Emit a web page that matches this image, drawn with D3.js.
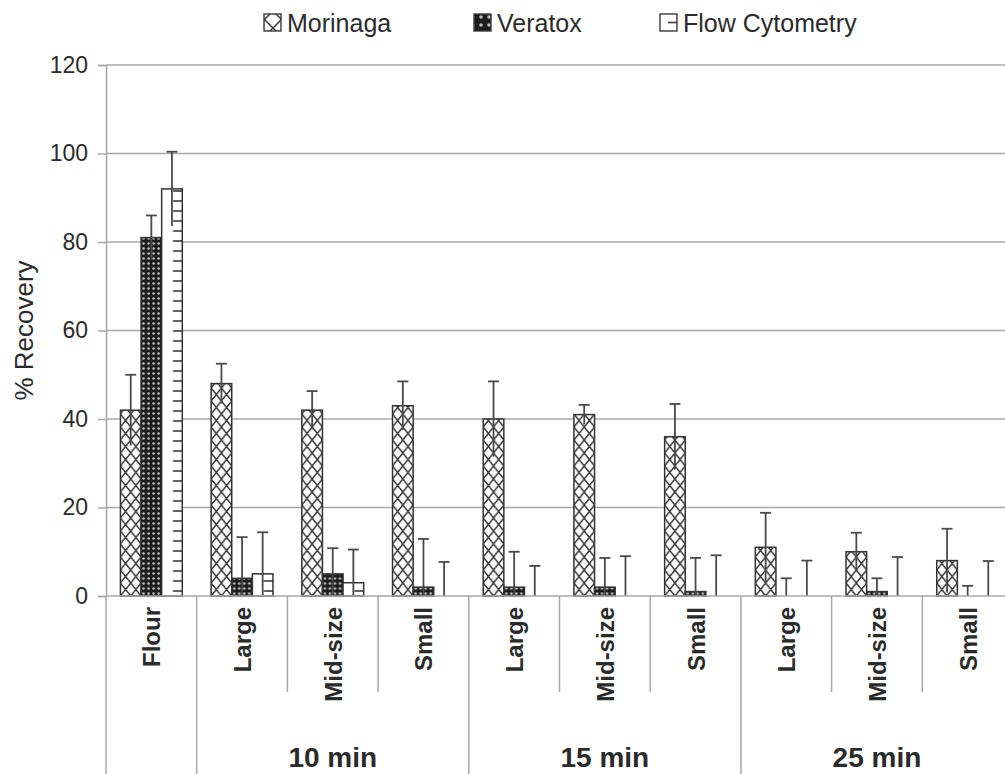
<!DOCTYPE html>
<html>
<head>
<meta charset="utf-8">
<script src="https://cdn.jsdelivr.net/npm/d3@7"></script>
<style>
  body { margin: 0; background: #fff; }
  text { font-family: "Liberation Sans", Arial, sans-serif; fill: #2b2b2b; }
</style>
</head>
<body>
<svg id="svg"></svg>
<script>
// Data
const categories = ["Flour", "Large", "Mid-size", "Small", "Large", "Mid-size", "Small", "Large", "Mid-size", "Small"];
const timeLabels = ["10 min", "15 min", "25 min"];
const timeSpans = [[1, 3], [4, 6], [7, 9]];
const seriesNames = ["Morinaga", "Veratox", "Flow Cytometry"];
const morinaga = [42, 48, 42, 43, 40, 41, 36, 11, 10, 8];
const morinagaErr = [8, 4.5, 4.3, 5.5, 8.5, 2.2, 7.4, 7.8, 4.3, 7.2];
const veratox = [81, 4, 5, 2, 2, 2, 1, 0, 1, 0];
const veratoxErr = [5, 9.3, 5.8, 10.9, 8, 6.6, 7.6, 4, 3, 2.3];
const flow = [92, 5, 3, 0, 0, 0, 0, 0, 0, 0];
const flowErr = [8.4, 9.4, 7.5, 7.7, 6.8, 9, 9.2, 8, 8.8, 7.9];
const yTicks = [0, 20, 40, 60, 80, 100, 120];

const width = 1005, height = 774;
const svg = d3.select("#svg").attr("width", width).attr("height", height);
const defs = svg.append("defs");

const x0 = 106, x1 = 1013, yBottom = 596, yTop = 65;

const x = d3.scaleBand().domain(d3.range(categories.length)).range([x0, x1]);
const xs = d3.scaleBand().domain(seriesNames).range([0, x.bandwidth()]).paddingOuter(0.7);
const y = d3.scaleLinear().domain([0, 120]).range([yBottom, yTop]);

const values = [morinaga, veratox, flow];
const errors = [morinagaErr, veratoxErr, flowErr];

// grid lines
svg.append("g")
    .selectAll("line")
    .data(yTicks.slice(1))
    .enter()
    .append("line")
    .attr("x1", x0).attr("x2", width)
    .attr("y1", d => y(d)).attr("y2", d => y(d))
    .attr("stroke", "#a8a8a8").attr("stroke-width", 1.5);

// y axis
const yAxis = svg.append("g")
    .attr("transform", "translate(" + x0 + ",0)")
    .call(d3.axisLeft(y).tickValues(yTicks).tickSize(8).tickPadding(10));
yAxis.select(".domain").attr("stroke", "#a8a8a8").attr("stroke-width", 1.5);
yAxis.selectAll(".tick line").attr("stroke", "#a8a8a8").attr("stroke-width", 1.5);
yAxis.selectAll(".tick text").attr("font-size", 23).style("fill", "#2b2b2b")
    .attr("font-family", "Liberation Sans, Arial, sans-serif");

svg.append("text")
    .attr("transform", "translate(33," + y(60) + ") rotate(-90)")
    .attr("text-anchor", "middle")
    .attr("font-size", 26)
    .text("% Recovery");

// patterns, one per bar so the tiles line up with each bar
function crossPattern(id, px, py, w, h) {
    const p = defs.append("pattern").attr("id", id)
        .attr("patternUnits", "userSpaceOnUse")
        .attr("x", px).attr("y", py).attr("width", w).attr("height", h);
    p.append("rect").attr("width", w).attr("height", h).attr("fill", "#fff");
    p.append("path").attr("d", "M0,0L" + w + "," + h + "M" + w + ",0L0," + h)
        .attr("stroke", "#3a3a3a").attr("stroke-width", 1.5);
}
function dotPattern(id, px) {
    const p = defs.append("pattern").attr("id", id)
        .attr("patternUnits", "userSpaceOnUse")
        .attr("x", px).attr("y", yBottom).attr("width", 5).attr("height", 5);
    p.append("rect").attr("width", 5).attr("height", 5).attr("fill", "#1c1c1c");
    p.append("circle").attr("cx", 2.5).attr("cy", 2.5).attr("r", 1.25).attr("fill", "#c4c4c4");
}
function tickPattern(id, px, w, h) {
    const p = defs.append("pattern").attr("id", id)
        .attr("patternUnits", "userSpaceOnUse")
        .attr("x", px).attr("y", yBottom).attr("width", w).attr("height", h);
    p.append("rect").attr("width", w).attr("height", h).attr("fill", "#fff");
    p.append("line").attr("x1", w * 0.55).attr("x2", w).attr("y1", h / 2).attr("y2", h / 2)
        .attr("stroke", "#3a3a3a").attr("stroke-width", 1.6);
}

const bw = xs.bandwidth();
const bars = [];
categories.forEach((c, i) => {
    seriesNames.forEach((s, k) => {
        const bx = x(i) + xs(s);
        const id = "p" + k + "_" + i;
        if (k === 0) crossPattern(id, bx, yBottom, bw / 2, 13);
        else if (k === 1) dotPattern(id, bx);
        else tickPattern(id, bx, bw, 10);
        bars.push({ i: i, k: k, x: bx, v: values[k][i], e: errors[k][i], id: id });
    });
});

// bars
svg.append("g")
    .selectAll("rect")
    .data(bars.filter(d => d.v > 0))
    .enter()
    .append("rect")
    .attr("x", d => d.x)
    .attr("y", d => y(d.v))
    .attr("width", bw)
    .attr("height", d => y(0) - y(d.v))
    .attr("fill", d => "url(#" + d.id + ")")
    .attr("stroke", "#333")
    .attr("stroke-width", 1.5);

// error bars
const eb = svg.append("g").selectAll("g").data(bars).enter().append("g");
eb.append("line")
    .attr("x1", d => d.x + bw / 2).attr("x2", d => d.x + bw / 2)
    .attr("y1", d => y(Math.max(0, d.v - d.e))).attr("y2", d => y(d.v + d.e))
    .attr("stroke", "#4a4a4a").attr("stroke-width", 1.8);
eb.append("line")
    .attr("x1", d => d.x + bw / 2 - 5.5).attr("x2", d => d.x + bw / 2 + 5.5)
    .attr("y1", d => y(d.v + d.e)).attr("y2", d => y(d.v + d.e))
    .attr("stroke", "#4a4a4a").attr("stroke-width", 1.8);

// x axis line and separators
svg.append("line")
    .attr("x1", x0).attr("x2", width).attr("y1", yBottom).attr("y2", yBottom)
    .attr("stroke", "#a8a8a8").attr("stroke-width", 1.5);
const longSeps = [0, 1, 4, 7];
svg.append("g")
    .selectAll("line")
    .data(d3.range(categories.length))
    .enter()
    .append("line")
    .attr("x1", i => x(i)).attr("x2", i => x(i))
    .attr("y1", yBottom)
    .attr("y2", i => longSeps.includes(i) ? height : 692)
    .attr("stroke", "#a8a8a8").attr("stroke-width", 1.5);

// category labels
svg.append("g")
    .selectAll("text")
    .data(categories)
    .enter()
    .append("text")
    .attr("transform", (d, i) => "translate(" + (x(i) + x.bandwidth() / 2 + 9) + ",607) rotate(-90)")
    .attr("text-anchor", "end")
    .attr("font-size", 24)
    .attr("font-weight", "bold")
    .text(d => d);

// time labels
svg.append("g")
    .selectAll("text")
    .data(timeLabels)
    .enter()
    .append("text")
    .attr("x", (d, j) => (x(timeSpans[j][0]) + x(timeSpans[j][1]) + x.bandwidth()) / 2)
    .attr("y", 767)
    .attr("text-anchor", "middle")
    .attr("font-size", 28)
    .attr("font-weight", "bold")
    .text(d => d);

// legend
const legendX = [264, 474, 660];
const lg = svg.append("g").selectAll("g").data(seriesNames).enter().append("g")
    .attr("transform", (d, k) => "translate(" + legendX[k] + ",14)");
crossPattern("lg0", legendX[0], 14, 17, 17);
const lp1 = defs.append("pattern").attr("id", "lg1").attr("patternUnits", "userSpaceOnUse")
    .attr("x", legendX[1] + 1).attr("y", 15).attr("width", 8).attr("height", 8);
lp1.append("rect").attr("width", 8).attr("height", 8).attr("fill", "#1c1c1c");
lp1.append("circle").attr("cx", 4).attr("cy", 4).attr("r", 1.8).attr("fill", "#bbb");
const lp2 = defs.append("pattern").attr("id", "lg2").attr("patternUnits", "objectBoundingBox")
    .attr("width", 1).attr("height", 1);
lp2.append("rect").attr("width", 17).attr("height", 17).attr("fill", "#fff");
lp2.append("line").attr("x1", 8).attr("x2", 17).attr("y1", 8.5).attr("y2", 8.5)
    .attr("stroke", "#3a3a3a").attr("stroke-width", 1.6);
lg.append("rect")
    .attr("width", 17).attr("height", 17)
    .attr("fill", (d, k) => "url(#lg" + k + ")")
    .attr("stroke", "#3a3a3a").attr("stroke-width", 1.4);
lg.append("text")
    .attr("x", 23).attr("y", 18)
    .attr("font-size", 25)
    .text(d => d);
</script>
</body>
</html>
